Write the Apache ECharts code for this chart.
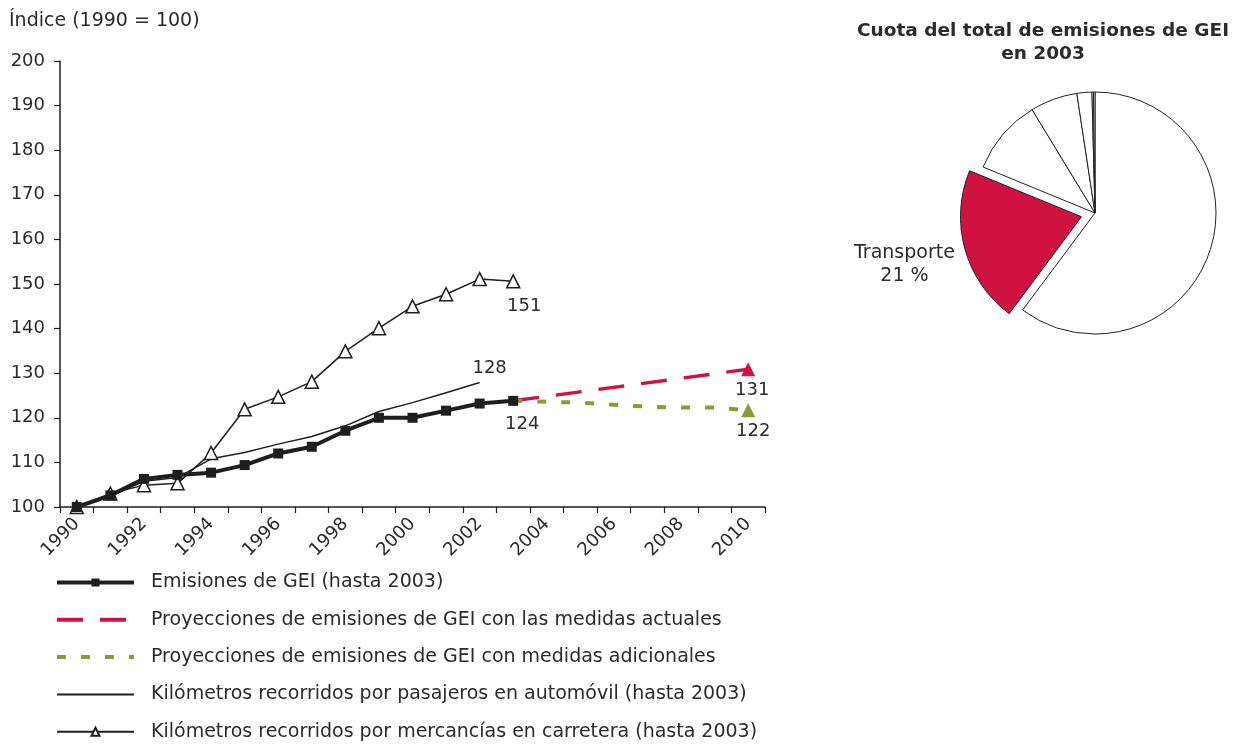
<!DOCTYPE html>
<html>
<head>
<meta charset="utf-8">
<script src="https://cdn.jsdelivr.net/npm/echarts@6/dist/echarts.min.js"></script>
<style>
  html, body { margin: 0; padding: 0; background: #fff; }
  #chart { width: 1239px; height: 744px; }
</style>
</head>
<body>
<div id="chart"></div>
<script>
// Years on the horizontal axis
const years = ['1990','1991','1992','1993','1994','1995','1996','1997','1998','1999','2000',
               '2001','2002','2003','2004','2005','2006','2007','2008','2009','2010'];

// Index values (1990 = 100)
const emisionesGEI = [100, 102.6, 106.3, 107.2, 107.7, 109.4, 112.0, 113.5, 117.1, 120.0, 120.0, 121.6, 123.2, 123.8];
const proyeccionActuales = [null, null, null, null, null, null, null, null, null, null, null, null, null,
                            123.8, null, null, null, null, null, null, 130.9];
const proyeccionAdicionales = [null, null, null, null, null, null, null, null, null, null, null, null, null,
                               123.8, 123.6, 123.4, 122.9, 122.5, 122.3, 122.3, 121.7];
const kmPasajeros = [100, 102.4, 105.8, 106.6, 110.8, 112.2, 114.1, 115.8, 118.2, 121.4, 123.4, 125.6, 127.9];
const kmMercancias = [100, 103.0, 104.9, 105.3, 112.1, 121.9, 124.7, 128.1, 134.9, 140.1, 145.0, 147.7, 151.1, 150.6];

// Share of total GHG emissions in 2003 (%)
const sectores = ['Energía', 'Transporte', 'Agricultura', 'Procesos industriales', 'Residuos', 'Otros', 'Disolventes'];
const cuotas = [60.2, 21, 10.1, 6.3, 2.0, 0.2, 0.2];

const yTicks = { min: 100, max: 200, step: 10 };

const nombres = [
  'Emisiones de GEI (hasta 2003)',
  'Proyecciones de emisiones de GEI con las medidas actuales',
  'Proyecciones de emisiones de GEI con medidas adicionales',
  'Kilómetros recorridos por pasajeros en automóvil (hasta 2003)',
  'Kilómetros recorridos por mercancías en carretera (hasta 2003)'
];

const ROJO = '#D01243';
const VERDE = '#8B9A35';
const NEGRO = '#1e1e1e';
const TEXTO = '#2b2b2b';
const FONT = 'DejaVu Sans';

// Put a value label on the last point of a series
function lastLabel(arr, label) {
  return arr.map((v, i) => i === arr.length - 1 ? { value: v, label: Object.assign({ show: true }, label) } : v);
}
function endMarker(arr) {
  return arr.map((v, i) => i === arr.length - 1 ? v : null);
}

const valueLabel = { color: TEXTO, fontSize: 18, fontFamily: FONT, formatter: p => Math.round(p.value) };
// Legend entries whose line carries no marker
const noMarker = { color: 'rgba(0,0,0,0)', borderWidth: 0, opacity: 0 };

const chart = echarts.init(document.getElementById('chart'), null, { renderer: 'canvas' });

chart.setOption({
  animation: false,
  backgroundColor: '#fff',
  textStyle: { fontFamily: FONT },
  title: [
    {
      text: 'Índice (1990 = 100)',
      left: 9, top: 12, padding: 0,
      textStyle: { fontSize: 19, fontWeight: 'normal', color: TEXTO, fontFamily: FONT }
    },
    {
      text: 'Cuota del total de emisiones de GEI\nen 2003',
      left: 1043, top: 20, textAlign: 'center', padding: 0,
      textStyle: { fontSize: 18.5, fontWeight: 'bold', color: TEXTO, fontFamily: FONT, lineHeight: 23 }
    }
  ],
  legend: {
    orient: 'vertical',
    left: 55, top: 573, padding: 0,
    itemWidth: 77, itemHeight: 10, itemGap: 18.3,
    selectedMode: false,
    data: [
      { name: nombres[0], lineStyle: { width: 4 } },
      { name: nombres[1], lineStyle: { width: 4 }, itemStyle: noMarker },
      { name: nombres[2], lineStyle: { width: 4 }, itemStyle: noMarker },
      { name: nombres[3], lineStyle: { width: 2 }, itemStyle: noMarker },
      { name: nombres[4], lineStyle: { width: 2 } }
    ],
    textStyle: { fontSize: 19, color: TEXTO, fontFamily: FONT, padding: [0, 0, 0, 12] }
  },
  grid: { left: 60, top: 61, width: 705, height: 446 },
  xAxis: {
    type: 'category',
    data: years,
    boundaryGap: true,
    axisLine: { lineStyle: { color: NEGRO, width: 1.5 } },
    axisTick: { show: true, interval: 0, length: 6, lineStyle: { color: NEGRO, width: 1.2 } },
    axisLabel: { interval: 1, rotate: 45, margin: 14, fontSize: 18, color: TEXTO, fontFamily: FONT }
  },
  yAxis: {
    type: 'value',
    min: yTicks.min, max: yTicks.max, interval: yTicks.step,
    axisLine: { show: true, lineStyle: { color: NEGRO, width: 1.5 } },
    axisTick: { show: true, length: 6, lineStyle: { color: NEGRO, width: 1.2 } },
    splitLine: { show: false },
    axisLabel: { margin: 15, fontSize: 18, color: TEXTO, fontFamily: FONT }
  },
  series: [
    {
      name: nombres[4], type: 'line', z: 3,
      data: lastLabel(kmMercancias, Object.assign({ position: 'bottom', offset: [11, 4] }, valueLabel)),
      symbol: 'triangle', symbolSize: 13,
      itemStyle: { color: '#fff', borderColor: NEGRO, borderWidth: 1.5 },
      lineStyle: { color: NEGRO, width: 1.5 },
      emphasis: { disabled: true }
    },
    {
      name: nombres[3], type: 'line', z: 3,
      data: lastLabel(kmPasajeros, Object.assign({ position: 'top', offset: [10, 0] }, valueLabel)),
      symbol: 'circle', symbolSize: 0.1, showSymbol: true,
      itemStyle: { color: NEGRO },
      lineStyle: { color: NEGRO, width: 1.5 },
      emphasis: { disabled: true }
    },
    {
      name: nombres[1], type: 'line', z: 2,
      data: proyeccionActuales, connectNulls: true,
      symbol: 'none',
      itemStyle: { color: ROJO },
      lineStyle: { color: ROJO, width: 3.5, type: [26, 17] },
      emphasis: { disabled: true }
    },
    {
      name: nombres[2], type: 'line', z: 2,
      data: proyeccionAdicionales, connectNulls: true,
      symbol: 'none',
      itemStyle: { color: VERDE },
      lineStyle: { color: VERDE, width: 4, type: [9, 15] },
      emphasis: { disabled: true }
    },
    {
      name: nombres[0], type: 'line', z: 4,
      data: lastLabel(emisionesGEI, Object.assign({ position: 'bottom', offset: [9, 4] }, valueLabel)),
      symbol: 'rect', symbolSize: 10,
      itemStyle: { color: NEGRO },
      lineStyle: { color: NEGRO, width: 4 },
      emphasis: { disabled: true }
    },
    // 2010 end points of the two projections
    {
      name: 'Proyección 2010 (medidas actuales)', type: 'scatter', z: 5,
      data: lastLabel(endMarker(proyeccionActuales), Object.assign({ position: 'bottom', offset: [4, 0] }, valueLabel)),
      symbol: 'triangle', symbolSize: 14,
      itemStyle: { color: ROJO, opacity: 1 },
      emphasis: { disabled: true }
    },
    {
      name: 'Proyección 2010 (medidas adicionales)', type: 'scatter', z: 5,
      data: lastLabel(endMarker(proyeccionAdicionales), Object.assign({ position: 'bottom', offset: [5, 0] }, valueLabel)),
      symbol: 'triangle', symbolSize: 14,
      itemStyle: { color: VERDE, opacity: 1 },
      emphasis: { disabled: true }
    },
    {
      name: 'Cuota 2003', type: 'pie',
      center: [1095, 213], radius: 121,
      startAngle: 90, clockwise: true,
      selectedMode: 'single', selectedOffset: 14,
      emphasis: { disabled: true },
      itemStyle: { color: '#fff', borderColor: '#222', borderWidth: 1 },
      label: { show: false },
      labelLine: { show: false },
      data: sectores.map((s, i) => {
        const d = { name: s, value: cuotas[i] };
        if (s === 'Transporte') {
          d.selected = true;
          d.itemStyle = { color: ROJO, borderColor: '#222', borderWidth: 1 };
          d.label = {
            show: true, position: 'outside', alignTo: 'none',
            // a blank spacer line lowers the two text lines under the slice edge
            formatter: p => '{s| }\n{t|' + p.name + '}\n{t|' + p.value + ' %}',
            rich: {
              s: { fontSize: 1, lineHeight: 32 },
              t: { fontSize: 19, color: TEXTO, fontFamily: FONT, lineHeight: 23, align: 'center' }
            }
          };
          d.labelLine = { show: false, length: 0, length2: 5 };
        }
        return d;
      })
    }
  ]
});
</script>
</body>
</html>
